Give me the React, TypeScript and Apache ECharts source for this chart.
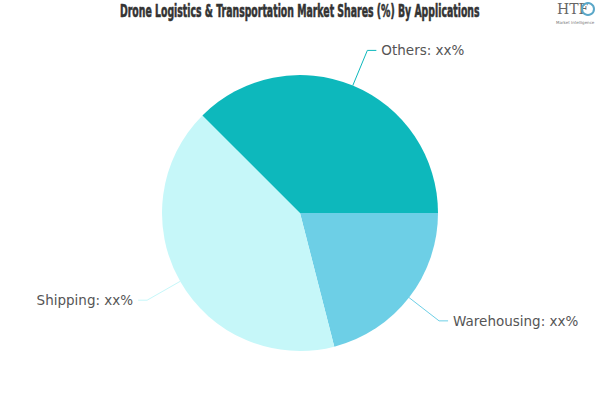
import React, { useEffect, useRef } from "react";
import * as echarts from "echarts";

const categories = ["Warehousing", "Shipping", "Others"];
const values = [21, 41.5, 37.5];
const labelTexts = ["xx%", "xx%", "xx%"];
const colors = ["#6dcfe6", "#c6f7f9", "#0db8bc"];
const titleText = "Drone Logistics & Transportation Market Shares (%) By Applications";

export default function App() {
  const ref = useRef<HTMLDivElement>(null);
  useEffect(() => {
    document.body.style.margin = "0";
    const chart = echarts.init(ref.current!, null, { renderer: "svg" });
    chart.setOption({
      animation: false,
      backgroundColor: "#ffffff",
      graphic: [
        {
          type: "text",
          x: 120,
          y: 2,
          scaleX: 0.55,
          style: {
            text: titleText,
            font: "900 17px 'DejaVu Sans'",
            fill: "#333333",
            stroke: "#333333",
            lineWidth: 0.6,
          },
        },
        {
          type: "text",
          x: 557,
          y: 2,
          style: { text: "HTF", font: "14px 'DejaVu Serif'", fill: "#666" },
        },
        {
          type: "circle",
          shape: { cx: 588, cy: 9, r: 6 },
          style: { fill: "none", stroke: "#5aa7c8", lineWidth: 2 },
        },
        {
          type: "text",
          x: 556,
          y: 20,
          style: { text: "Market Intelligence", font: "4px 'DejaVu Sans'", fill: "#777" },
        },
      ],
      series: [
        {
          type: "pie",
          center: [300, 213],
          radius: 138,
          startAngle: 0,
          clockwise: true,
          data: categories.map((c, i) => ({
            name: c,
            value: values[i],
            label: { formatter: c + ": " + labelTexts[i] },
            itemStyle: { color: colors[i] },
            labelLine: { lineStyle: { color: colors[i] } },
          })),
          label: {
            color: "#555555",
            fontSize: 13.5,
            fontFamily: "DejaVu Sans",
          },
          labelLine: { length: 38, length2: 9 },
        },
      ],
    });
    return () => chart.dispose();
  }, []);
  return <div ref={ref} style={{ width: 600, height: 400 }} />;
}
